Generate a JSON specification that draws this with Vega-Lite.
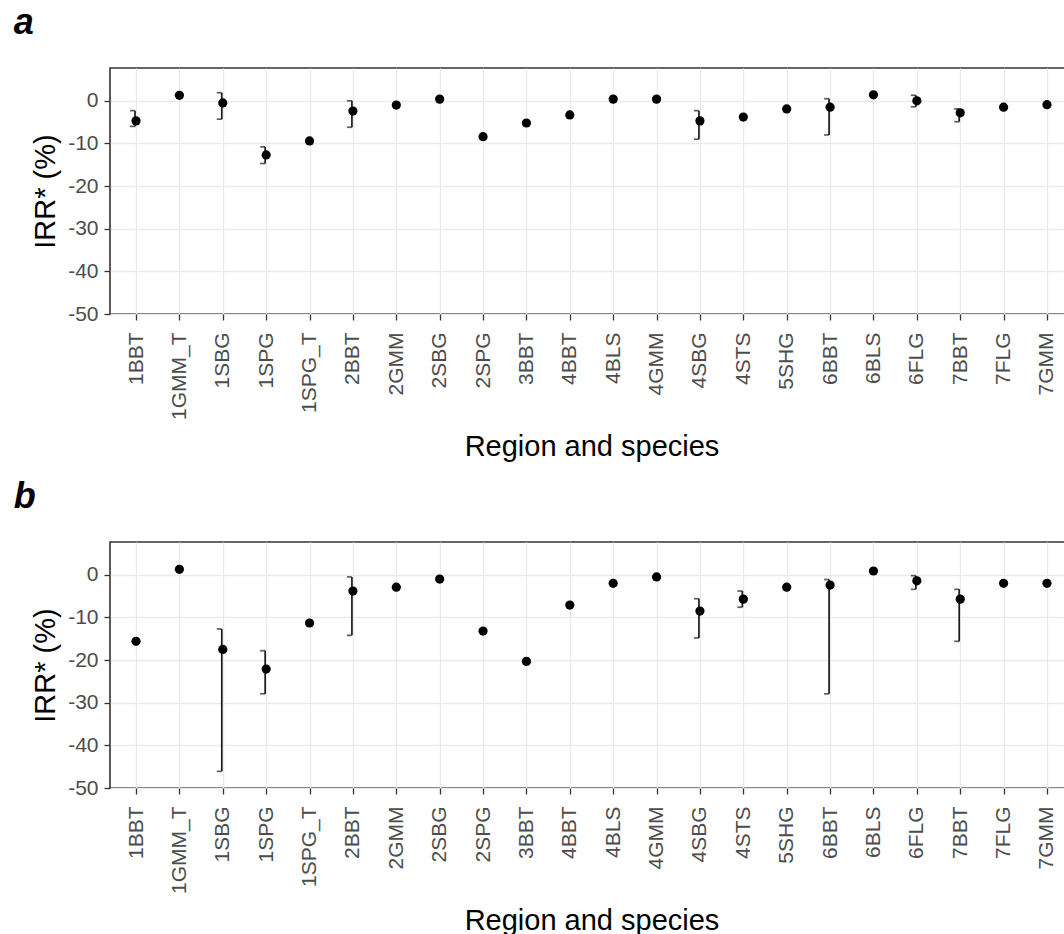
{
  "$schema": "https://vega.github.io/schema/vega-lite/v6.json",
  "background": "white",
  "padding": {"left": 12, "top": 4, "right": 0, "bottom": 0},
  "config": {
    "font": "Liberation Sans",
    "view": {"stroke": "#333333", "strokeWidth": 1.6},
    "axis": {
      "domain": false,
      "labelColor": "#4d4d4d",
      "labelFont": "Liberation Sans",
      "labelFontSize": 21,
      "tickColor": "#333333",
      "tickSize": 6,
      "tickWidth": 1.3,
      "grid": true,
      "gridColor": "#ebebeb",
      "gridWidth": 1.3,
      "titleFont": "Liberation Sans",
      "titleFontSize": 29,
      "titleFontWeight": "normal",
      "titleColor": "#000000"
    },
    "title": {
      "font": "Liberation Sans",
      "fontSize": 36,
      "fontWeight": "bold",
      "fontStyle": "italic",
      "anchor": "start",
      "frame": "bounds",
      "color": "#000000"
    },
    "concat": {"spacing": 15}
  },
  "datasets": {
    "irr": [
      {"panel": "a", "group": "1BBT", "irr": -4.7, "lo": -6.0, "hi": -2.3},
      {"panel": "a", "group": "1GMM_T", "irr": 1.3, "lo": null, "hi": null},
      {"panel": "a", "group": "1SBG", "irr": -0.5, "lo": -4.3, "hi": 1.9},
      {"panel": "a", "group": "1SPG", "irr": -12.7, "lo": -14.7, "hi": -10.8},
      {"panel": "a", "group": "1SPG_T", "irr": -9.4, "lo": null, "hi": null},
      {"panel": "a", "group": "2BBT", "irr": -2.4, "lo": -6.2, "hi": 0.0},
      {"panel": "a", "group": "2GMM", "irr": -1.0, "lo": null, "hi": null},
      {"panel": "a", "group": "2SBG", "irr": 0.4, "lo": null, "hi": null},
      {"panel": "a", "group": "2SPG", "irr": -8.4, "lo": null, "hi": null},
      {"panel": "a", "group": "3BBT", "irr": -5.2, "lo": null, "hi": null},
      {"panel": "a", "group": "4BBT", "irr": -3.3, "lo": null, "hi": null},
      {"panel": "a", "group": "4BLS", "irr": 0.4, "lo": null, "hi": null},
      {"panel": "a", "group": "4GMM", "irr": 0.4, "lo": null, "hi": null},
      {"panel": "a", "group": "4SBG", "irr": -4.7, "lo": -9.0, "hi": -2.3},
      {"panel": "a", "group": "4STS", "irr": -3.8, "lo": null, "hi": null},
      {"panel": "a", "group": "5SHG", "irr": -1.9, "lo": null, "hi": null},
      {"panel": "a", "group": "6BBT", "irr": -1.5, "lo": -8.0, "hi": 0.5},
      {"panel": "a", "group": "6BLS", "irr": 1.4, "lo": null, "hi": null},
      {"panel": "a", "group": "6FLG", "irr": 0.0, "lo": -1.4, "hi": 1.3},
      {"panel": "a", "group": "7BBT", "irr": -2.8, "lo": -4.9, "hi": -1.9},
      {"panel": "a", "group": "7FLG", "irr": -1.5, "lo": null, "hi": null},
      {"panel": "a", "group": "7GMM", "irr": -0.9, "lo": null, "hi": null},
      {"panel": "b", "group": "1BBT", "irr": -15.6, "lo": null, "hi": null},
      {"panel": "b", "group": "1GMM_T", "irr": 1.3, "lo": null, "hi": null},
      {"panel": "b", "group": "1SBG", "irr": -17.5, "lo": -46.1, "hi": -12.7},
      {"panel": "b", "group": "1SPG", "irr": -22.1, "lo": -27.9, "hi": -17.8},
      {"panel": "b", "group": "1SPG_T", "irr": -11.3, "lo": null, "hi": null},
      {"panel": "b", "group": "2BBT", "irr": -3.8, "lo": -14.2, "hi": -0.5},
      {"panel": "b", "group": "2GMM", "irr": -2.9, "lo": null, "hi": null},
      {"panel": "b", "group": "2SBG", "irr": -1.0, "lo": null, "hi": null},
      {"panel": "b", "group": "2SPG", "irr": -13.2, "lo": null, "hi": null},
      {"panel": "b", "group": "3BBT", "irr": -20.3, "lo": null, "hi": null},
      {"panel": "b", "group": "4BBT", "irr": -7.1, "lo": null, "hi": null},
      {"panel": "b", "group": "4BLS", "irr": -2.0, "lo": null, "hi": null},
      {"panel": "b", "group": "4GMM", "irr": -0.5, "lo": null, "hi": null},
      {"panel": "b", "group": "4SBG", "irr": -8.5, "lo": -14.8, "hi": -5.6},
      {"panel": "b", "group": "4STS", "irr": -5.7, "lo": -7.6, "hi": -3.8},
      {"panel": "b", "group": "5SHG", "irr": -2.9, "lo": null, "hi": null},
      {"panel": "b", "group": "6BBT", "irr": -2.4, "lo": -27.9, "hi": -1.1},
      {"panel": "b", "group": "6BLS", "irr": 0.9, "lo": null, "hi": null},
      {"panel": "b", "group": "6FLG", "irr": -1.4, "lo": -3.4, "hi": -0.2},
      {"panel": "b", "group": "7BBT", "irr": -5.7, "lo": -15.6, "hi": -3.4},
      {"panel": "b", "group": "7FLG", "irr": -2.0, "lo": null, "hi": null},
      {"panel": "b", "group": "7GMM", "irr": -2.0, "lo": null, "hi": null}
    ]
  },
  "vconcat": [
    {
      "title": {"text": "a", "dx": -18, "offset": 26},
      "width": 963,
      "height": 246,
      "data": {"name": "irr"},
      "transform": [{"filter": "datum.panel === 'a'"}],
      "encoding": {
        "x": {
          "field": "group", "type": "nominal",
          "scale": {"type": "point", "padding": 0.6, "domain": ["1BBT", "1GMM_T", "1SBG", "1SPG", "1SPG_T", "2BBT", "2GMM", "2SBG", "2SPG", "3BBT", "4BBT", "4BLS", "4GMM", "4SBG", "4STS", "5SHG", "6BBT", "6BLS", "6FLG", "7BBT", "7FLG", "7GMM"]},
          "axis": {"title": "Region and species", "labelAngle": -90, "labelPadding": 12, "titlePadding": 13}
        }
      },
      "layer": [
        {
          "transform": [{"filter": "datum.lo != null"}],
          "mark": {"type": "rule", "color": "#1a1a1a", "strokeWidth": 1.7, "xOffset": -1},
          "encoding": {"y": {"field": "lo", "type": "quantitative"}, "y2": {"field": "hi"}}
        },
        {
          "transform": [{"filter": "datum.lo != null"}],
          "mark": {"type": "tick", "color": "#1a1a1a", "size": 5, "thickness": 1.7, "xOffset": -3.5},
          "encoding": {"y": {"field": "lo", "type": "quantitative"}}
        },
        {
          "transform": [{"filter": "datum.hi != null"}],
          "mark": {"type": "tick", "color": "#1a1a1a", "size": 5, "thickness": 1.7, "xOffset": -3.5},
          "encoding": {"y": {"field": "hi", "type": "quantitative"}}
        },
        {
          "mark": {"type": "point", "filled": true, "color": "#000000", "opacity": 1, "size": 85},
          "encoding": {
            "y": {
              "field": "irr", "type": "quantitative",
              "scale": {"domain": [-50, 7.7], "nice": false, "zero": false},
              "axis": {
                "title": "IRR* (%)",
                "values": [-50, -45, -40, -35, -30, -25, -20, -15, -10, -5, 0, 5],
                "labelExpr": "datum.value % 10 === 0 ? '' + datum.value : ''",
                "labelPadding": 6,
                "tickOpacity": {"condition": {"test": "datum.value % 10 !== 0", "value": 0}, "value": 1},
                "gridWidth": {"condition": {"test": "datum.value % 10 !== 0", "value": 0.9}, "value": 1.3},
                "titlePadding": 7
              }
            }
          }
        }
      ]
    },
    {
      "title": {"text": "b", "dx": -18, "offset": 26},
      "width": 963,
      "height": 246,
      "data": {"name": "irr"},
      "transform": [{"filter": "datum.panel === 'b'"}],
      "encoding": {
        "x": {
          "field": "group", "type": "nominal",
          "scale": {"type": "point", "padding": 0.6, "domain": ["1BBT", "1GMM_T", "1SBG", "1SPG", "1SPG_T", "2BBT", "2GMM", "2SBG", "2SPG", "3BBT", "4BBT", "4BLS", "4GMM", "4SBG", "4STS", "5SHG", "6BBT", "6BLS", "6FLG", "7BBT", "7FLG", "7GMM"]},
          "axis": {"title": "Region and species", "labelAngle": -90, "labelPadding": 12, "titlePadding": 13}
        }
      },
      "layer": [
        {
          "transform": [{"filter": "datum.lo != null"}],
          "mark": {"type": "rule", "color": "#1a1a1a", "strokeWidth": 1.7, "xOffset": -1},
          "encoding": {"y": {"field": "lo", "type": "quantitative"}, "y2": {"field": "hi"}}
        },
        {
          "transform": [{"filter": "datum.lo != null"}],
          "mark": {"type": "tick", "color": "#1a1a1a", "size": 5, "thickness": 1.7, "xOffset": -3.5},
          "encoding": {"y": {"field": "lo", "type": "quantitative"}}
        },
        {
          "transform": [{"filter": "datum.hi != null"}],
          "mark": {"type": "tick", "color": "#1a1a1a", "size": 5, "thickness": 1.7, "xOffset": -3.5},
          "encoding": {"y": {"field": "hi", "type": "quantitative"}}
        },
        {
          "mark": {"type": "point", "filled": true, "color": "#000000", "opacity": 1, "size": 85},
          "encoding": {
            "y": {
              "field": "irr", "type": "quantitative",
              "scale": {"domain": [-50, 7.7], "nice": false, "zero": false},
              "axis": {
                "title": "IRR* (%)",
                "values": [-50, -45, -40, -35, -30, -25, -20, -15, -10, -5, 0, 5],
                "labelExpr": "datum.value % 10 === 0 ? '' + datum.value : ''",
                "labelPadding": 6,
                "tickOpacity": {"condition": {"test": "datum.value % 10 !== 0", "value": 0}, "value": 1},
                "gridWidth": {"condition": {"test": "datum.value % 10 !== 0", "value": 0.9}, "value": 1.3},
                "titlePadding": 7
              }
            }
          }
        }
      ]
    }
  ]
}
